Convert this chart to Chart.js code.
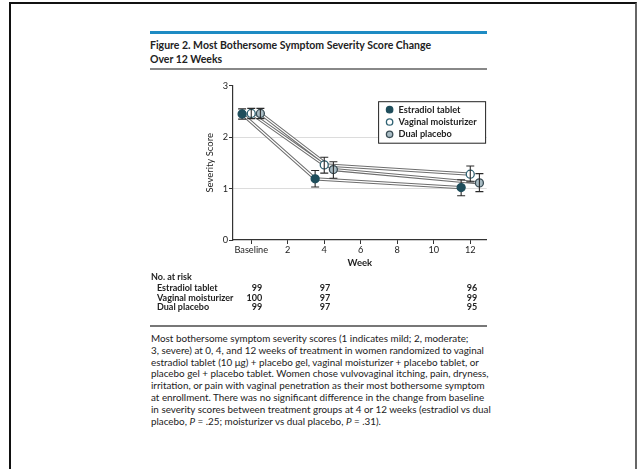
<!DOCTYPE html>
<html>
<head>
<meta charset="utf-8">
<script src="https://cdn.jsdelivr.net/npm/chart.js@4.4.0/dist/chart.umd.min.js"></script>
<style>
  html, body { margin:0; padding:0; background:#fff; }
  body { width:637px; height:469px; position:relative; overflow:hidden;
         font-family:Lato,"Liberation Sans",sans-serif; color:#222; }
  #frame { position:absolute; left:9px; top:2px; width:624px; height:480px;
           border-left:2px solid #111; border-top:2px solid #111; border-right:2px solid #666; }
  #bluebar { position:absolute; left:150px; top:31px; width:337px; height:3px; background:#1e8bc3; }
  #title { position:absolute; left:150px; top:38px; font-size:10.5px; font-weight:bold; line-height:14px; color:#222; white-space:nowrap; }
  #rule1 { position:absolute; left:150px; top:68px; width:337px; height:1.5px; background:#888; }
  #rule2 { position:absolute; left:150px; top:325px; width:337px; height:1.5px; background:#777; }
  #caption { position:absolute; left:151px; top:333px; font-size:9.85px; line-height:11.8px; white-space:nowrap; color:#222; }
  #wrap { position:absolute; left:140px; top:70px; width:360px; height:250px; }
</style>
</head>
<body>
<div id="frame"></div>
<div id="bluebar"></div>
<div id="title">Figure 2. Most Bothersome Symptom Severity Score Change<br>Over 12 Weeks</div>
<div id="rule1"></div>
<div id="wrap"><canvas id="c"></canvas></div>
<div id="rule2"></div>
<div id="caption">Most bothersome symptom severity scores (1 indicates mild; 2, moderate;<br>3, severe) at 0, 4, and 12 weeks of treatment in women randomized to vaginal<br>estradiol tablet (10 μg) + placebo gel, vaginal moisturizer + placebo tablet, or<br>placebo gel + placebo tablet. Women chose vulvovaginal itching, pain, dryness,<br>irritation, or pain with vaginal penetration as their most bothersome symptom<br>at enrollment. There was no significant difference in the change from baseline<br>in severity scores between treatment groups at 4 or 12 weeks (estradiol vs dual<br>placebo, <i>P</i> = .25; moisturizer vs dual placebo, <i>P</i> = .31).</div>
<script>
// ---- data ----
const seriesNames = ["Estradiol tablet", "Vaginal moisturizer", "Dual placebo"];
const weeks = [0, 4, 12];
const xOffsets = [-0.5, 0, 0.5];           // horizontal dodge per series (weeks)
const estradiolMean  = [2.45, 1.19, 1.02];
const estradiolLow   = [2.35, 1.03, 0.86];
const estradiolHigh  = [2.55, 1.35, 1.17];
const moisturizerMean = [2.46, 1.46, 1.28];
const moisturizerLow  = [2.36, 1.30, 1.13];
const moisturizerHigh = [2.56, 1.61, 1.44];
const placeboMean = [2.46, 1.37, 1.11];
const placeboLow  = [2.36, 1.20, 0.94];
const placeboHigh = [2.56, 1.52, 1.29];
const xTickValues = [0, 2, 4, 6, 8, 10, 12];
const xTickLabels = ["Baseline", "2", "4", "6", "8", "10", "12"];
const yTickValues = [0, 1, 2, 3];
const riskWeeks = [0, 4, 12];
const riskEstradiol = [99, 97, 96];
const riskMoisturizer = [100, 97, 99];
const riskPlacebo = [99, 97, 95];

const FONT = 'Lato,"Liberation Sans",sans-serif';
const means = [estradiolMean, moisturizerMean, placeboMean];
const lows = [estradiolLow, moisturizerLow, placeboLow];
const highs = [estradiolHigh, moisturizerHigh, placeboHigh];
const risks = [riskEstradiol, riskMoisturizer, riskPlacebo];
const fills = ["#1f4e5c", "#ffffff", "#a9bcc4"];
const strokes = ["#1f4e5c", "#2f6273", "#3a4d55"];

function pts(i) { return weeks.map((w, k) => ({ x: w + xOffsets[i], y: means[i][k] })); }

const datasets = [];
seriesNames.forEach((n, i) => datasets.push({
  label: n, data: pts(i), showLine: false, order: 0,
  pointRadius: 4, pointBorderWidth: 1.3,
  pointBackgroundColor: fills[i], pointBorderColor: strokes[i]
}));
seriesNames.forEach((n, i) => datasets.push({
  label: n + " inner", data: pts(i), showLine: true, order: 1, pointRadius: 0,
  borderColor: "#ffffff", borderWidth: 1.2, fill: false
}));
seriesNames.forEach((n, i) => datasets.push({
  label: n + " outer", data: pts(i), showLine: true, order: 2, pointRadius: 0,
  borderColor: "#6e6e6e", borderWidth: 3.3, fill: false
}));

const errorBars = {
  id: "errorBars",
  beforeDatasetDraw(chart, args) {
    if (args.index !== 0) return;
    const { ctx, scales: { x, y } } = chart;
    ctx.save();
    ctx.strokeStyle = "#2a2a2a";
    ctx.lineWidth = 1.1;
    seriesNames.forEach((n, i) => {
      weeks.forEach((w, k) => {
        const px = x.getPixelForValue(w + xOffsets[i]);
        const y1 = y.getPixelForValue(lows[i][k]);
        const y2 = y.getPixelForValue(highs[i][k]);
        ctx.beginPath();
        ctx.moveTo(px, y1); ctx.lineTo(px, y2);
        ctx.moveTo(px - 4, y1); ctx.lineTo(px + 4, y1);
        ctx.moveTo(px - 4, y2); ctx.lineTo(px + 4, y2);
        ctx.stroke();
      });
    });
    ctx.restore();
  }
};

const legendAndRisk = {
  id: "legendAndRisk",
  afterDraw(chart) {
    const { ctx, scales: { x, y }, chartArea } = chart;
    ctx.save();
    const bx = x.getPixelForValue(6.95), by = chartArea.top + 15.5;
    const bw = 107, bh = 41.5;
    ctx.strokeStyle = "#222"; ctx.lineWidth = 1;
    ctx.fillStyle = "#fff";
    ctx.fillRect(bx, by, bw, bh);
    ctx.strokeRect(bx + 0.5, by + 0.5, bw, bh);
    ctx.font = "bold 9.2px " + FONT;
    ctx.textBaseline = "middle";
    seriesNames.forEach((n, i) => {
      const ly = by + 8.5 + i * 12.3;
      ctx.beginPath();
      ctx.arc(bx + 11.5, ly, 3.2, 0, Math.PI * 2);
      ctx.fillStyle = fills[i]; ctx.fill();
      ctx.strokeStyle = strokes[i]; ctx.lineWidth = 1.3; ctx.stroke();
      ctx.fillStyle = "#222";
      ctx.textAlign = "left";
      ctx.fillText(n, bx + 20.5, ly);
    });
    ctx.font = "bold 9px " + FONT;
    ctx.fillStyle = "#222";
    ctx.textAlign = "left";
    const baseY = 207;
    ctx.fillText("No. at risk", 11, baseY);
    const colOff = [11, 6, 7];
    seriesNames.forEach((n, i) => {
      const ry = baseY + 11.2 + i * 9.6;
      ctx.textAlign = "left";
      ctx.fillText(n, 17, ry);
      ctx.textAlign = "right";
      riskWeeks.forEach((w, k) => {
        ctx.fillText(String(risks[i][k]), x.getPixelForValue(w) + colOff[k], ry);
      });
    });
    ctx.restore();
  }
};

new Chart(document.getElementById("c"), {
  type: "scatter",
  data: { datasets },
  options: {
    responsive: true, maintainAspectRatio: false, animation: false,
    layout: { padding: { top: 15.7, right: 13.3, bottom: 51, left: 64 } },
    plugins: { legend: { display: false }, tooltip: { enabled: false } },
    scales: {
      x: {
        type: "linear", min: -1, max: 12.9,
        afterBuildTicks: s => { s.ticks = xTickValues.map(v => ({ value: v })); },
        afterFit: s => { s.height = 29; },
        border: { color: "#333", width: 1.2 },
        grid: { drawOnChartArea: false, tickLength: 4, tickColor: "#333", tickWidth: 1 },
        ticks: {
          color: "#222", padding: 1, maxRotation: 0, autoSkip: false,
          font: { family: FONT, size: 9.2 },
          callback: (v) => xTickLabels[xTickValues.indexOf(v)]
        },
        title: { display: true, text: "Week", color: "#222", padding: { top: 0, bottom: 0 },
                 font: { family: FONT, size: 9.5, weight: "bold" } }
      },
      y: {
        min: 0, max: 3,
        afterBuildTicks: s => { s.ticks = yTickValues.map(v => ({ value: v })); },
        afterFit: s => { s.width = 29; },
        border: { color: "#333", width: 1.2 },
        grid: {
          tickLength: 4, tickColor: "#333",
          color: c => (c.tick && (c.tick.value === 1 || c.tick.value === 2)) ? "#dcdcdc" : "rgba(0,0,0,0)",
          lineWidth: 1
        },
        ticks: { color: "#222", padding: 1, font: { family: FONT, size: 9.2 } },
        title: { display: true, text: "Severity Score", color: "#222", padding: { top: 0, bottom: 2 },
                 font: { family: FONT, size: 9.5 } }
      }
    }
  },
  plugins: [errorBars, legendAndRisk]
});
</script>
</body>
</html>
